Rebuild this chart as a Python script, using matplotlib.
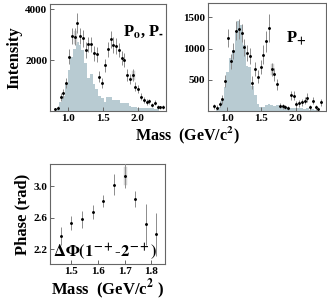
import numpy as np
import matplotlib
matplotlib.use("Agg")
import matplotlib.pyplot as plt

plt.rcParams['font.family'] = ['Liberation Serif', 'DejaVu Serif']
plt.rcParams['font.weight'] = 'bold'
plt.rcParams['mathtext.fontset'] = 'stix'

# bin centres (GeV/c^2), 40 bins of 0.04
mass = np.round(np.arange(0.81, 2.39, 0.04), 2)

# P0, P- : data points and error, grey histogram
counts1 = [60, 100, 560, 690, 1110, 2130, 2940, 2910, 3440, 2940,
           2850, 2390, 2610, 2610, 2260, 2220, 1340, 1110, 1800, 2420,
           2810, 2590, 2550, 2390, 2070, 2000, 1410, 1250, 1410, 950,
           850, 560, 430, 350, 380, 235, 325, 170, 145, 170]
err1 = [60, 80, 150, 170, 200, 300, 330, 330, 390, 330,
        330, 300, 310, 310, 290, 290, 220, 200, 260, 300,
        320, 300, 300, 290, 270, 270, 220, 200, 220, 170,
        160, 130, 120, 110, 110, 90, 100, 80, 70, 80]
gray1 = [0, 100, 350, 600, 1100, 1600, 2100, 2450, 2700, 2600,
         2400, 1900, 1300, 1450, 1050, 850, 600, 500, 365, 540,
         560, 450, 420, 440, 320, 300, 310, 180, 160, 170,
         120, 130, 110, 120, 100, 120, 90, 60, 0, 0]

# P+
counts2 = [75, 50, 110, 190, 480, 1170, 800, 960, 1290, 1310,
           1250, 1020, 930, 880, 455, 670, 550, 700, 905, 1115,
           1330, 667, 587, 430, 85, 75, 60, 45, 250, 245,
           110, 125, 140, 165, 215, 60, 165, 60, 30, 140]
err2 = [40, 40, 50, 70, 100, 150, 120, 130, 160, 160,
        150, 140, 130, 130, 100, 110, 100, 110, 150, 170,
        220, 110, 100, 90, 40, 40, 35, 35, 70, 70,
        50, 55, 60, 60, 70, 40, 60, 40, 30, 55]
gray2 = [0, 20, 60, 180, 380, 620, 850, 980, 1250, 1450,
         1380, 1050, 720, 700, 400, 260, 120, 70, 60, 90,
         110, 100, 80, 90, 70, 60, 50, 70, 50, 40,
         50, 40, 50, 30, 40, 20, 30, 10, 0, 0]

# phase difference
ph_mass = [1.46, 1.50, 1.54, 1.58, 1.62, 1.66, 1.70, 1.74, 1.78, 1.82]
phase = [2.37, 2.53, 2.58, 2.67, 2.81, 3.02, 3.13, 2.84, 2.52, 2.39]
ph_err = [0.11, 0.09, 0.11, 0.09, 0.08, 0.13, 0.16, 0.10, 0.26, 0.27]

hist_col = '#b8cbd2'
spine_col = '#666666'

edges = np.append(mass - 0.02, mass[-1] + 0.02)

def style(ax):
    for s in ax.spines.values():
        s.set_color(spine_col)
        s.set_linewidth(0.8)
    ax.tick_params(direction='in', length=3, width=0.7, labelsize=8,
                   color=spine_col, pad=2)
    for lab in ax.get_xticklabels() + ax.get_yticklabels():
        lab.set_fontweight('bold')

def points(ax, x, y, e, sys_idx):
    x = np.asarray(x); y = np.asarray(y); e = np.asarray(e)
    for i in sys_idx:
        ax.plot([x[i], x[i]], [y[i] - e[i] * 0.6, y[i] + e[i] * 0.6],
                color='#d4d4d4', lw=2.5, zorder=2)
    ax.errorbar(x, y, yerr=e, fmt='o', ms=1.1, color='k', ecolor='#8c8c8c',
                elinewidth=0.7, capsize=0, zorder=3)

fig = plt.figure(figsize=(3.27, 3.04), dpi=100)
ax1 = fig.add_axes([0.1529, 0.6349, 0.3547, 0.352])
ax2 = fig.add_axes([0.636, 0.6349, 0.3624, 0.355])
ax3 = fig.add_axes([0.1529, 0.1316, 0.3517, 0.329])

ax1.stairs(gray1, edges, fill=True, color=hist_col, zorder=1)
points(ax1, mass, counts1, err1, [7, 28])
ax1.set_xlim(0.736, 2.41)
ax1.set_ylim(0, 4200)
ax1.set_xticks([1.0, 1.5, 2.0])
ax1.set_yticks([2000, 4000])
ax1.set_ylabel('Intensity', fontsize=12, fontweight='bold', labelpad=2)
ax1.text(0.63, 0.70, r'P$_\mathbf{o}$, P$_{\text{-}}$', transform=ax1.transAxes,
         fontsize=12, fontweight='bold')
style(ax1)

ax2.stairs(gray2, edges, fill=True, color=hist_col, zorder=1)
points(ax2, mass, counts2, err2, [21])
ax2.set_xlim(0.72, 2.45)
ax2.set_ylim(0, 1730)
ax2.set_xticks([1.0, 1.5, 2.0])
ax2.set_yticks([500, 1000, 1500])
ax2.text(0.66, 0.64, r'P$_\mathbf{+}$', transform=ax2.transAxes, fontsize=12,
         fontweight='bold')
style(ax2)

fig.text(187 / 327, 1 - 140 / 304, r'Mass  (GeV/c$^\mathbf{2}$)', ha='center',
         va='baseline', fontsize=11.5, fontweight='bold')

points(ax3, ph_mass, phase, ph_err, [6])
ax3.set_xlim(1.42, 1.852)
ax3.set_ylim(2.015, 3.28)
ax3.set_xticks([1.5, 1.6, 1.7, 1.8])
ax3.set_yticks([2.2, 2.6, 3.0])
ax3.set_ylabel('Phase (rad)', fontsize=12, fontweight='bold', labelpad=2)
ax3.set_xlabel(r'Mass  (GeV/c$^\mathbf{2}$ )', fontsize=12, fontweight='bold',
               labelpad=1)
ax3.text(0.03, 0.07, r'$\Delta\Phi(1^{-+}$-$2^{-+})$', transform=ax3.transAxes,
         fontsize=12, fontweight='normal')
style(ax3)

fig.savefig('out.png', dpi=100)
